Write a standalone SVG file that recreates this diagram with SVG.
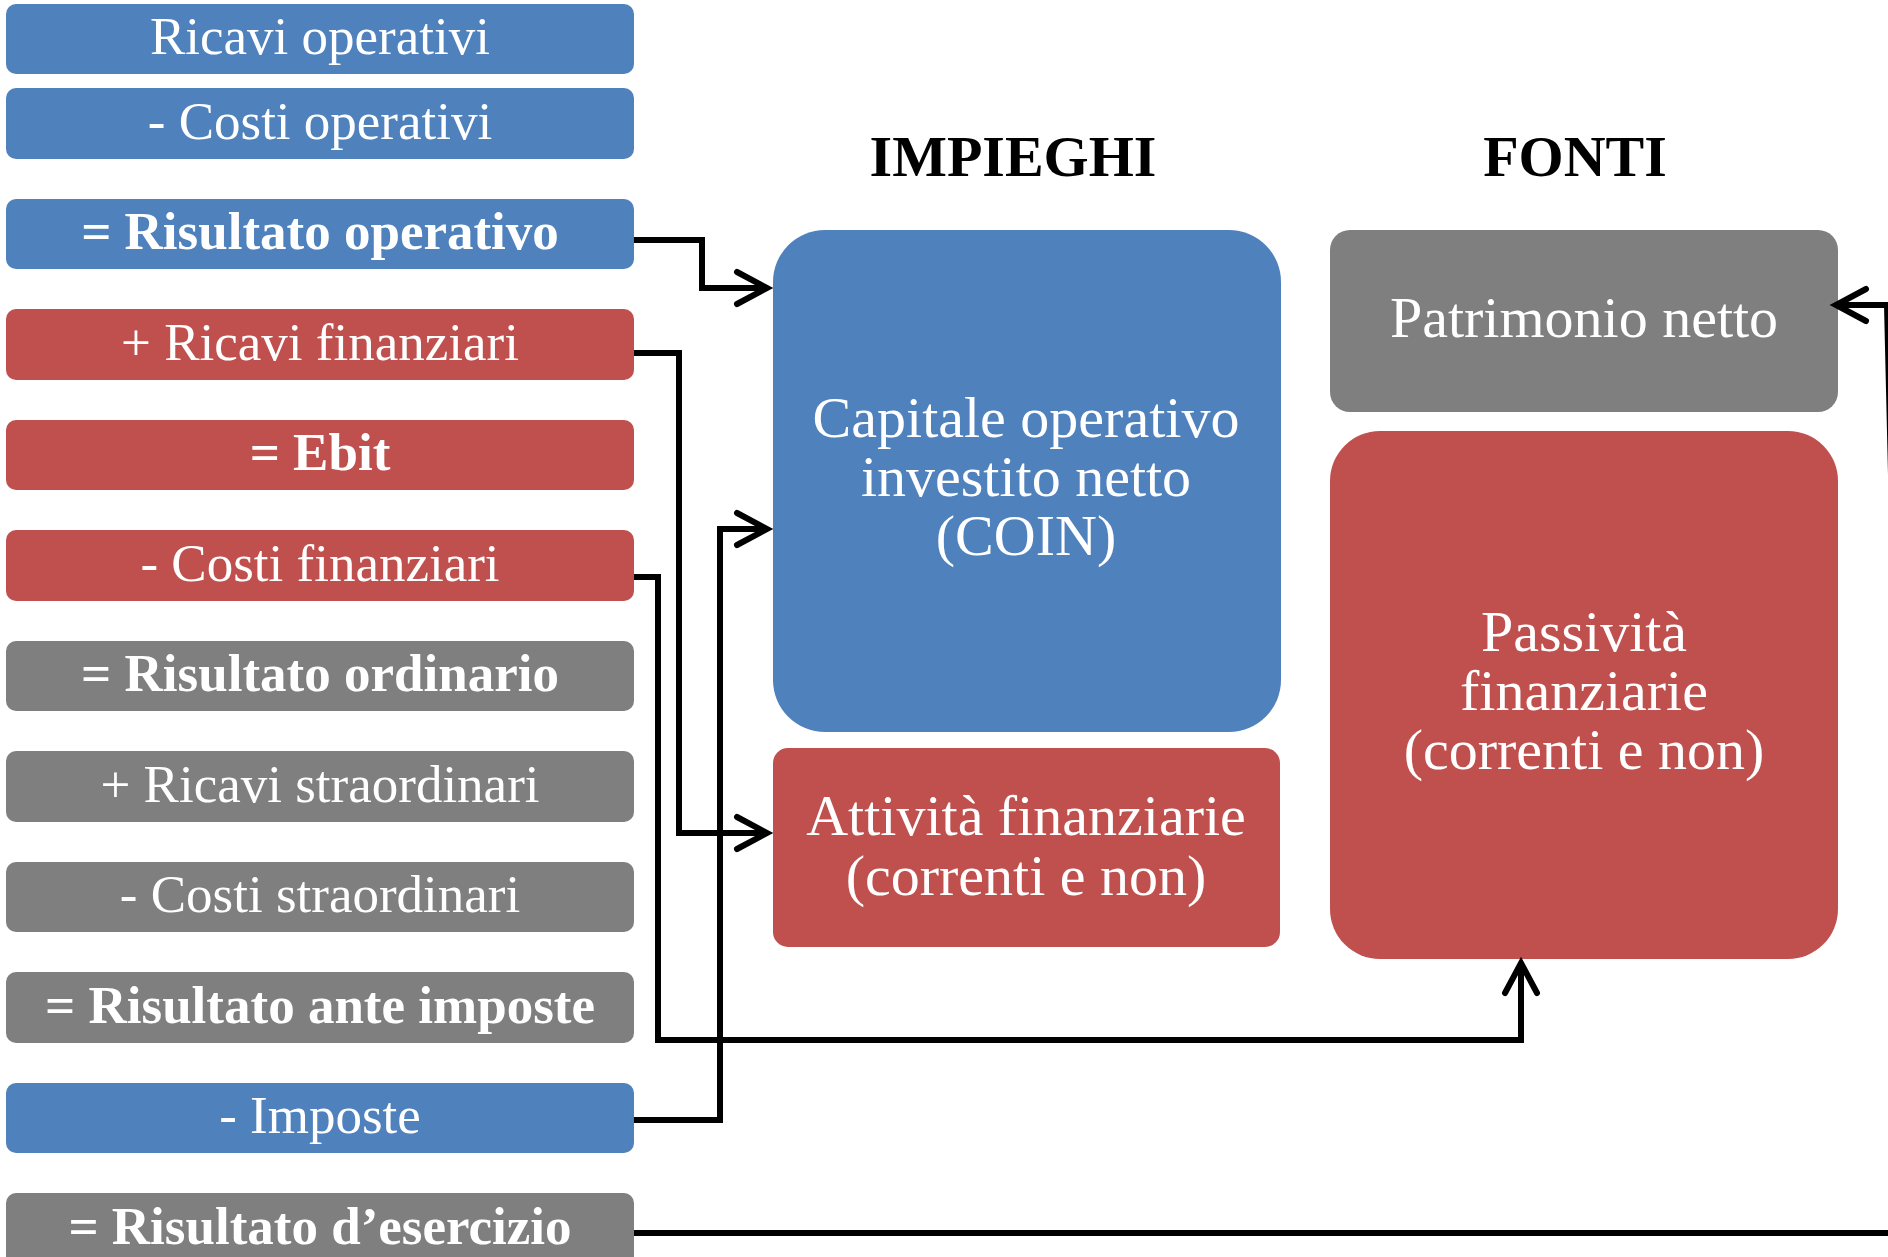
<svg xmlns="http://www.w3.org/2000/svg" width="1888" height="1257" viewBox="0 0 1888 1257">
<style>
.blue{fill:#4F81BD}
.red{fill:#C0504D}
.gray{fill:#7F7F7F}
.t{font-family:"Liberation Serif","Times New Roman",serif;font-size:53px;fill:#FFFFFF;text-anchor:middle}
.b{font-weight:bold}
.big{font-family:"Liberation Serif","Times New Roman",serif;font-size:58px;fill:#FFFFFF;text-anchor:middle}
.hdr{font-family:"Liberation Serif","Times New Roman",serif;font-size:58px;font-weight:bold;fill:#000000;text-anchor:middle}
.conn{fill:none;stroke:#000000;stroke-width:6;stroke-linejoin:miter}
</style>
<defs>
<marker id="chev" markerUnits="userSpaceOnUse" viewBox="-40 -22 46 44" refX="0" refY="0" markerWidth="46" markerHeight="44" orient="auto" overflow="visible">
<path d="M-30,-16 L0,0 L-30,16" fill="none" stroke="#000000" stroke-width="6" stroke-linecap="round" stroke-linejoin="miter"/>
</marker>
</defs>
<rect width="1888" height="1257" fill="#FFFFFF"/>

<g id="r1"><rect class="blue" x="6" y="4" width="628" height="70" rx="10"/><text class="t" x="320" y="54">Ricavi operativi</text></g>
<g id="r2"><rect class="blue" x="6" y="88" width="628" height="71" rx="10"/><text class="t" x="320" y="139">- Costi operativi</text></g>
<g id="r3"><rect class="blue" x="6" y="199" width="628" height="70" rx="10"/><text class="t b" x="320" y="249">= Risultato operativo</text></g>
<g id="r4"><rect class="red" x="6" y="309" width="628" height="71" rx="10"/><text class="t" x="320" y="360">+ Ricavi finanziari</text></g>
<g id="r5"><rect class="red" x="6" y="420" width="628" height="70" rx="10"/><text class="t b" x="320" y="470">= Ebit</text></g>
<g id="r6"><rect class="red" x="6" y="530" width="628" height="71" rx="10"/><text class="t" x="320" y="581">- Costi finanziari</text></g>
<g id="r7"><rect class="gray" x="6" y="641" width="628" height="70" rx="10"/><text class="t b" x="320" y="691">= Risultato ordinario</text></g>
<g id="r8"><rect class="gray" x="6" y="751" width="628" height="71" rx="10"/><text class="t" x="320" y="802">+ Ricavi straordinari</text></g>
<g id="r9"><rect class="gray" x="6" y="862" width="628" height="70" rx="10"/><text class="t" x="320" y="912">- Costi straordinari</text></g>
<g id="r10"><rect class="gray" x="6" y="972" width="628" height="71" rx="10"/><text class="t b" x="320" y="1023">= Risultato ante imposte</text></g>
<g id="r11"><rect class="blue" x="6" y="1083" width="628" height="70" rx="10"/><text class="t" x="320" y="1133">- Imposte</text></g>
<g id="r12"><rect class="gray" x="6" y="1193" width="628" height="80" rx="10"/><text class="t b" x="320" y="1244">= Risultato d’esercizio</text></g>

<g id="h-impieghi"><text class="hdr" x="1013" y="176">IMPIEGHI</text></g>
<g id="h-fonti"><text class="hdr" x="1575" y="176">FONTI</text></g>

<g id="coin"><rect class="blue" x="773" y="230" width="508" height="502" rx="52"/>
<text class="big" x="1026" y="437">Capitale operativo</text>
<text class="big" x="1026" y="496">investito netto</text>
<text class="big" x="1026" y="555">(COIN)</text></g>

<g id="attfin"><rect class="red" x="773" y="748" width="507" height="199" rx="15"/>
<text class="big" x="1026" y="835">Attività finanziarie</text>
<text class="big" x="1026" y="895">(correnti e non)</text></g>

<g id="pn"><rect class="gray" x="1330" y="230" width="508" height="182" rx="20"/>
<text class="big" x="1584" y="337">Patrimonio netto</text></g>

<g id="passfin"><rect class="red" x="1330" y="431" width="508" height="528" rx="50"/>
<text class="big" x="1584" y="651">Passività</text>
<text class="big" x="1584" y="710">finanziarie</text>
<text class="big" x="1584" y="769">(correnti e non)</text></g>

<g id="connectors">
<path class="conn" d="M634,240 H702 V288 H767" marker-end="url(#chev)"/>
<path class="conn" d="M634,353 H679 V833 H767" marker-end="url(#chev)"/>
<path class="conn" d="M634,577 H658 V1040 H1521 V963" marker-end="url(#chev)"/>
<path class="conn" d="M634,1120 H720 V529 H767" marker-end="url(#chev)"/>
<path class="conn" d="M634,1233 H1893 V560 L1887,305 H1836" marker-end="url(#chev)"/>
</g>
</svg>
